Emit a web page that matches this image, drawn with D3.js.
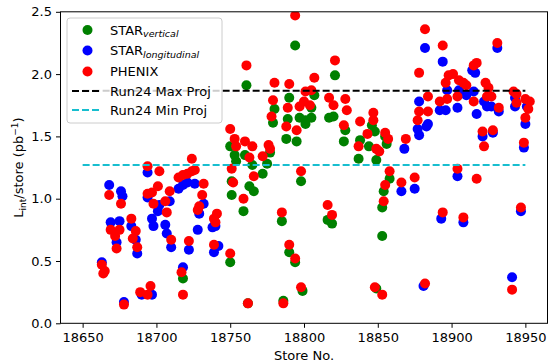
<!DOCTYPE html>
<html>
<head>
<meta charset="utf-8">
<script src="https://cdn.jsdelivr.net/npm/d3@7"></script>
<style>
  html, body { margin: 0; padding: 0; background: #fff; }
  svg { display: block; font-family: "DejaVu Sans", sans-serif; }
</style>
</head>
<body>
<svg id="chart" width="551" height="363"></svg>
<script>
// Integrated luminosity per store, by experiment
const starVerticalStore = [18718, 18750, 18750, 18751, 18751, 18753, 18754, 18759, 18760, 18761, 18762, 18763, 18765, 18766, 18772, 18775, 18777, 18779, 18780, 18785, 18786, 18788, 18789, 18790, 18790, 18794, 18794, 18795, 18797, 18798, 18799, 18801, 18801, 18805, 18805, 18807, 18816, 18817, 18819, 18820, 18821, 18827, 18828, 18837, 18838, 18844, 18846, 18848, 18849, 18849, 18853, 18853, 18854, 18855, 18856, 18858];
const starVerticalLumi  = [0.36, 1.42, 0.49, 1.14, 1.03, 1.35, 1.30, 0.90, 1.35, 1.91, 0.16, 1.10, 1.27, 1.06, 1.20, 1.28, 1.37, 1.61, 1.72, 0.82, 0.18, 1.48, 1.64, 1.81, 0.57, 2.23, 0.49, 1.46, 1.65, 1.14, 0.26, 1.63, 1.60, 1.65, 1.73, 1.83, 0.83, 1.65, 0.80, 1.66, 1.99, 1.46, 1.55, 1.32, 1.47, 1.42, 1.59, 1.54, 1.31, 0.28, 0.70, 0.93, 1.06, 1.50, 1.44, 1.16];

const starLongStore = [18668, 18663, 18669, 18673, 18675, 18676, 18677, 18678, 18683, 18686, 18687, 18690, 18694, 18694, 18697, 18697, 18698, 18701, 18702, 18706, 18707, 18709, 18710, 18715, 18718, 18718, 18721, 18722, 18726, 18728, 18729, 18732, 18738, 18739, 18740, 18742, 18866, 18868, 18875, 18877, 18878, 18878, 18881, 18882, 18883, 18884, 18892, 18893, 18894, 18896, 18897, 18904, 18904, 18905, 18908, 18910, 18914, 18915, 18916, 18917, 18921, 18922, 18924, 18927, 18928, 18931, 18932, 18941, 18943, 18943, 18947, 18949, 18950, 18951];
const starLongLumi  = [1.11, 0.49, 0.81, 0.65, 0.82, 1.06, 1.02, 0.17, 0.78, 0.67, 0.56, 0.23, 1.21, 1.01, 0.84, 0.23, 0.78, 0.90, 0.95, 0.79, 0.72, 0.98, 0.61, 1.08, 1.11, 0.45, 1.13, 0.59, 1.12, 0.75, 0.88, 0.96, 0.77, 0.57, 0.78, 0.62, 1.06, 1.40, 1.08, 1.56, 1.51, 1.78, 0.30, 2.21, 1.58, 1.60, 1.71, 0.84, 2.10, 1.71, 1.87, 1.73, 1.18, 1.87, 0.81, 1.83, 2.03, 1.86, 2.01, 1.68, 1.50, 1.78, 1.74, 1.74, 1.53, 2.21, 1.70, 0.37, 1.81, 1.74, 0.90, 1.41, 1.60, 1.74];

const phenixStore = [18668, 18663, 18664, 18665, 18669, 18672, 18673, 18675, 18676, 18678, 18683, 18684, 18686, 18687, 18689, 18694, 18694, 18694, 18696, 18697, 18698, 18701, 18702, 18706, 18707, 18709, 18710, 18715, 18717, 18718, 18718, 18721, 18722, 18724, 18724, 18726, 18728, 18729, 18731, 18732, 18739, 18739, 18740, 18741, 18750, 18750, 18751, 18752, 18753, 18754, 18759, 18760, 18761, 18762, 18763, 18765, 18766, 18772, 18776, 18777, 18778, 18779, 18780, 18785, 18786, 18788, 18789, 18790, 18790, 18794, 18794, 18795, 18797, 18798, 18798, 18800, 18801, 18804, 18805, 18807, 18816, 18817, 18819, 18820, 18821, 18827, 18828, 18829, 18837, 18838, 18843, 18847, 18847, 18848, 18849, 18851, 18853, 18854, 18855, 18855, 18857, 18858, 18866, 18869, 18875, 18877, 18878, 18878, 18882, 18882, 18884, 18884, 18892, 18894, 18894, 18896, 18897, 18898, 18901, 18904, 18904, 18905, 18908, 18908, 18910, 18915, 18915, 18917, 18917, 18921, 18922, 18923, 18924, 18925, 18927, 18928, 18931, 18932, 18941, 18942, 18944, 18944, 18947, 18949, 18950, 18950, 18952, 18953];
const phenixLumi  = [1.03, 0.47, 0.40, 0.42, 0.75, 0.70, 0.60, 0.75, 0.96, 0.15, 0.84, 0.68, 0.74, 0.61, 0.25, 0.23, 1.26, 1.04, 0.30, 1.05, 0.96, 1.10, 1.22, 0.98, 0.89, 1.06, 0.67, 1.17, 0.41, 1.19, 0.23, 1.20, 0.66, 1.22, 1.32, 1.23, 0.91, 0.94, 1.03, 1.12, 0.84, 0.63, 0.81, 0.88, 1.56, 0.56, 1.24, 1.13, 1.48, 1.42, 1.00, 1.46, 2.07, 0.16, 1.33, 1.42, 1.18, 1.34, 1.43, 1.40, 1.66, 1.79, 1.93, 0.89, 0.16, 1.58, 1.73, 1.92, 0.63, 2.47, 0.52, 1.55, 1.74, 1.22, 0.29, 1.78, 1.86, 1.75, 1.87, 1.97, 0.95, 1.81, 0.87, 1.75, 2.11, 1.59, 1.80, 1.71, 1.42, 1.62, 1.52, 1.69, 1.63, 0.29, 1.40, 1.38, 0.23, 0.98, 1.11, 1.53, 1.48, 1.22, 1.13, 1.48, 1.17, 1.63, 1.70, 2.01, 2.36, 0.32, 1.82, 1.70, 1.78, 2.23, 0.89, 1.93, 1.80, 1.99, 2.00, 1.82, 1.24, 1.95, 1.93, 0.85, 1.91, 2.07, 1.78, 2.09, 1.16, 1.54, 1.42, 1.93, 1.82, 1.89, 1.82, 1.55, 2.25, 1.73, 0.27, 1.86, 1.84, 1.77, 0.93, 1.45, 1.80, 1.65, 1.72, 1.78];

// Run24 projections (per store) drawn across the store range
const projRange = [18650, 18950];
const maxProj = 1.867;
const minProj = 1.27;

const xTicks = [18650, 18700, 18750, 18800, 18850, 18900, 18950];
const yTicks = [0.0, 0.5, 1.0, 1.5, 2.0, 2.5];

const svg = d3.select("#chart");
const W = 551, H = 363;
const plot = { left: 60.5, right: 547.5, top: 11.8, bottom: 323.3 };

const x = d3.scaleLinear().domain([18635, 18965]).range([plot.left, plot.right]);
const y = d3.scaleLinear().domain([0, 2.5]).range([plot.bottom, plot.top]);

svg.append("rect").attr("width", W).attr("height", H).attr("fill", "#fff");

const clipId = "plotclip";
svg.append("clipPath").attr("id", clipId).append("rect")
  .attr("x", plot.left).attr("y", plot.top)
  .attr("width", plot.right - plot.left).attr("height", plot.bottom - plot.top);

const series = [
  { name: "vertical", stores: starVerticalStore, lumi: starVerticalLumi, color: "#008000" },
  { name: "longitudinal", stores: starLongStore, lumi: starLongLumi, color: "#0000ff" },
  { name: "phenix", stores: phenixStore, lumi: phenixLumi, color: "#ff0000" }
];

const dataG = svg.append("g").attr("clip-path", `url(#${clipId})`);
const R = 5;
series.forEach(s => {
  const pts = s.stores.map((st, i) => ({ st, v: s.lumi[i] }));
  dataG.append("g").selectAll("circle").data(pts).join("circle")
    .attr("cx", d => x(d.st)).attr("cy", d => y(d.v)).attr("r", R)
    .attr("fill", s.color);
});

// projection lines
const projLines = [
  { v: maxProj, color: "#000000" },
  { v: minProj, color: "#17becf" }
];
projLines.forEach(p => {
  dataG.append("line")
    .attr("x1", x(projRange[0])).attr("x2", x(projRange[1]))
    .attr("y1", y(p.v)).attr("y2", y(p.v))
    .attr("stroke", p.color).attr("stroke-width", 2)
    .attr("stroke-dasharray", "7,3");
});

// axes
const fontSize = 13;
const xAxis = d3.axisBottom(x).tickValues(xTicks).tickFormat(d3.format("d"))
  .tickSize(4.5).tickPadding(5);
const yAxis = d3.axisLeft(y).tickValues(yTicks).tickFormat(d3.format(".1f"))
  .tickSize(4.5).tickPadding(4);

const gx = svg.append("g").attr("transform", `translate(0,${plot.bottom})`).call(xAxis);
const gy = svg.append("g").attr("transform", `translate(${plot.left},0)`).call(yAxis);
[gx, gy].forEach(g => {
  g.select(".domain").remove();
  g.selectAll("line").attr("stroke", "#000").attr("stroke-width", 1);
  g.selectAll("text").attr("font-size", fontSize).attr("fill", "#000")
    .attr("font-family", "DejaVu Sans, sans-serif");
});

// frame
svg.append("rect")
  .attr("x", plot.left).attr("y", plot.top)
  .attr("width", plot.right - plot.left).attr("height", plot.bottom - plot.top)
  .attr("fill", "none").attr("stroke", "#000").attr("stroke-width", 1);

// axis labels
svg.append("text")
  .attr("x", (plot.left + plot.right) / 2).attr("y", 360)
  .attr("text-anchor", "middle").attr("font-size", fontSize).attr("fill", "#000")
  .text("Store No.");

const yl = svg.append("text")
  .attr("transform", `translate(23,${(plot.top + plot.bottom) / 2}) rotate(-90)`)
  .attr("text-anchor", "middle").attr("font-size", fontSize).attr("fill", "#000");
yl.append("tspan").text("L");
yl.append("tspan").attr("font-size", 9).attr("dy", 3).text("int");
yl.append("tspan").attr("dy", -3).text("/store (pb");
yl.append("tspan").attr("font-size", 9).attr("dy", -5).text("\u22121");
yl.append("tspan").attr("dy", 5).text(")");

// legend
const lg = svg.append("g");
lg.append("rect")
  .attr("x", 67).attr("y", 18).attr("width", 155).attr("height", 105).attr("rx", 3)
  .attr("fill", "#fff").attr("fill-opacity", 0.8)
  .attr("stroke", "#cccccc").attr("stroke-width", 1);

const legendItems = [
  { kind: "dot", color: "#008000", main: "STAR", sub: "vertical", y: 30 },
  { kind: "dot", color: "#0000ff", main: "STAR", sub: "longitudinal", y: 50.5 },
  { kind: "dot", color: "#ff0000", main: "PHENIX", sub: null, y: 71.5 },
  { kind: "line", color: "#000000", main: "Run24 Max Proj", sub: null, y: 91 },
  { kind: "line", color: "#17becf", main: "Run24 Min Proj", sub: null, y: 110 }
];
legendItems.forEach(it => {
  if (it.kind === "dot") {
    lg.append("circle").attr("cx", 87.5).attr("cy", it.y).attr("r", R).attr("fill", it.color);
  } else {
    lg.append("line").attr("x1", 72).attr("x2", 101).attr("y1", it.y).attr("y2", it.y)
      .attr("stroke", it.color).attr("stroke-width", 2).attr("stroke-dasharray", "7,3");
  }
  const t = lg.append("text").attr("x", 110).attr("y", it.y + 4.7)
    .attr("font-size", fontSize).attr("fill", "#000");
  t.append("tspan").text(it.main);
  if (it.sub) {
    t.append("tspan").attr("font-size", 9.5).attr("font-style", "italic")
      .attr("dy", 2.5).text(it.sub);
  }
});
</script>
</body>
</html>
